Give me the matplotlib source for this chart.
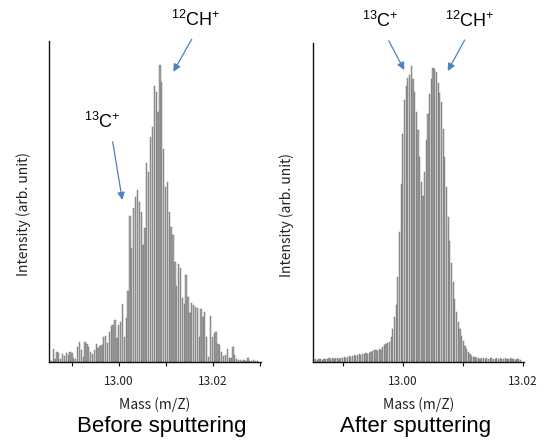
import numpy as np
import matplotlib
matplotlib.use("Agg")
import matplotlib.pyplot as plt
from matplotlib.ticker import MultipleLocator, FormatStrFormatter


# ---- data (bar heights in arbitrary units) ----
MASS_START_BEFORE = 12.9851
MASS_STEP_BEFORE = 0.0004
INTENSITY_BEFORE = [
    2, 1, 13, 3, 10, 9, 3, 8, 6, 9,
    7, 10, 9, 4, 3, 15, 20, 12, 5, 20,
    18, 15, 10, 8, 12, 18, 14, 16, 17, 25,
    26, 19, 30, 36, 37, 42, 24, 37, 40, 58,
    25, 44, 71, 146, 114, 154, 165, 172, 160, 150,
    117, 134, 199, 190, 225, 235, 276, 270, 250, 297,
    280, 213, 175, 180, 150, 135, 127, 100, 76, 98,
    94, 64, 58, 87, 65, 49, 59, 57, 55, 54,
    25, 53, 45, 50, 25, 5, 46, 25, 29, 30,
    18, 17, 10, 6, 7, 13, 4, 4, 15, 7,
    3, 2, 2, 1, 2, 1, 4, 1, 1, 2, 1, 1,
]

MASS_START_AFTER = 12.9852
MASS_STEP_AFTER = 0.00028
INTENSITY_AFTER = [
    2, 3, 2, 3, 3, 2, 3, 3, 3, 4,
    3, 4, 3, 4, 4, 3, 4, 4, 5, 4,
    5, 6, 5, 6, 7, 6, 7, 8, 7, 8,
    8, 9, 8, 9, 10, 11, 12, 12, 11, 13,
    12, 15, 17, 18, 19, 20, 25, 33, 45, 57,
    85, 130, 178, 228, 262, 276, 284, 287, 296, 283,
    270, 250, 232, 205, 180, 166, 190, 222, 248, 268,
    283, 294, 293, 290, 279, 269, 260, 233, 205, 175,
    145, 121, 99, 80, 63, 50, 40, 33, 26, 21,
    16, 13, 10, 8, 6, 5, 5, 4,
    4, 3, 4, 4, 3, 4, 3, 4, 4, 3, 3, 4, 3, 4, 3, 3, 4, 3, 3, 4, 3, 3, 2, 3, 3, 2,
]

TITLES = ["Before sputtering", "After sputtering"]
XLABEL = "Mass (m/Z)"
YLABEL = "Intensity (arb. unit)"
LABEL_13C = r"$^{13}$C$^{+}$"
LABEL_12CH = r"$^{12}$CH$^{+}$"

W, H = 544, 444
ARROW = "#4F81BD"
BAR = "#a3a3a3"
BAR_EDGE = "#6a6a6a"
TEXT = "#222222"
JP = "Noto Sans CJK JP"

plt.rcParams["mathtext.fontset"] = "custom"
plt.rcParams["mathtext.rm"] = "Liberation Sans"
plt.rcParams["mathtext.it"] = "Liberation Sans:italic"
plt.rcParams["mathtext.bf"] = "Liberation Sans:bold"


def fx(px):
    return px / W


def fy(py):
    return 1 - py / H


def panel(fig, rect, start, step, heights, xlim, ylim, ylabel_x):
    ax = fig.add_axes(rect)
    mass = start + step * np.arange(len(heights))
    ax.bar(mass, heights, width=step * 0.7, color=BAR, edgecolor=BAR_EDGE,
           linewidth=0.3, align="center")
    ax.set_xlim(*xlim)
    ax.set_ylim(0, ylim)
    for s in ["top", "right"]:
        ax.spines[s].set_visible(False)
    for s in ["left", "bottom"]:
        ax.spines[s].set_color("#111111")
        ax.spines[s].set_linewidth(1.0)
    ax.set_yticks([])
    ax.xaxis.set_major_locator(MultipleLocator(0.02))
    ax.xaxis.set_minor_locator(MultipleLocator(0.01))
    ax.xaxis.set_major_formatter(FormatStrFormatter("%.2f"))
    ax.tick_params(axis="x", which="both", direction="out", length=3,
                   width=0.8, color="#111111")
    ax.tick_params(axis="x", which="major", labelsize=8.5, pad=6,
                   labelcolor=TEXT)
    for t in ax.get_xticklabels():
        t.set_family(JP)
    ax.set_xlabel(XLABEL, fontsize=10, family=JP, color=TEXT)
    ax.xaxis.label.set_va("center")
    ax.xaxis.set_label_coords(0.5, -0.134)
    ax.set_ylabel(YLABEL, fontsize=10, family=JP, color=TEXT)
    ax.yaxis.label.set_va("center")
    ax.yaxis.set_label_coords(ylabel_x, 0.46)
    return ax


def label(fig, x, y, txt):
    fig.text(fx(x), fy(y), txt, ha="center", va="center", fontsize=13,
             family="Liberation Sans", color="black")


def arrow(fig, a, b):
    fig.add_artist(matplotlib.patches.FancyArrowPatch(
        (fx(a[0]), fy(a[1])), (fx(b[0]), fy(b[1])),
        transform=fig.transFigure, arrowstyle="-|>", mutation_scale=11,
        color=ARROW, linewidth=0.9, shrinkA=0, shrinkB=0))


def build_figure():
    fig = plt.figure(figsize=(W / 100, H / 100), dpi=100)
    fig.patch.set_facecolor("white")

    panel(fig, [fx(49), fy(362), fx(212), 321 / H],
          MASS_START_BEFORE, MASS_STEP_BEFORE, INTENSITY_BEFORE,
          (12.985, 13.0303), 321, -0.118)
    panel(fig, [fx(312.7), fy(362), fx(211), 319 / H],
          MASS_START_AFTER, MASS_STEP_AFTER, INTENSITY_AFTER,
          (12.985, 13.0202), 319, -0.122)

    label(fig, 196, 20, LABEL_12CH)
    label(fig, 102, 122, LABEL_13C)
    label(fig, 380, 21, LABEL_13C)
    label(fig, 470, 21, LABEL_12CH)

    arrow(fig, (191.7, 39.3), (173.3, 71.7))
    arrow(fig, (112.7, 141.7), (122.3, 200))
    arrow(fig, (388.7, 40.7), (404.3, 70))
    arrow(fig, (464.7, 40), (447.7, 71))

    fig.text(fx(162), fy(426), TITLES[0], ha="center", va="center",
             fontsize=16, family="Liberation Sans", color="black")
    fig.text(fx(416), fy(426), TITLES[1], ha="center", va="center",
             fontsize=16, family="Liberation Sans", color="black")
    return fig


def main():
    fig = build_figure()
    fig.savefig("out.png", dpi=100)
    plt.close(fig)


if __name__ == "__main__":
    main()
